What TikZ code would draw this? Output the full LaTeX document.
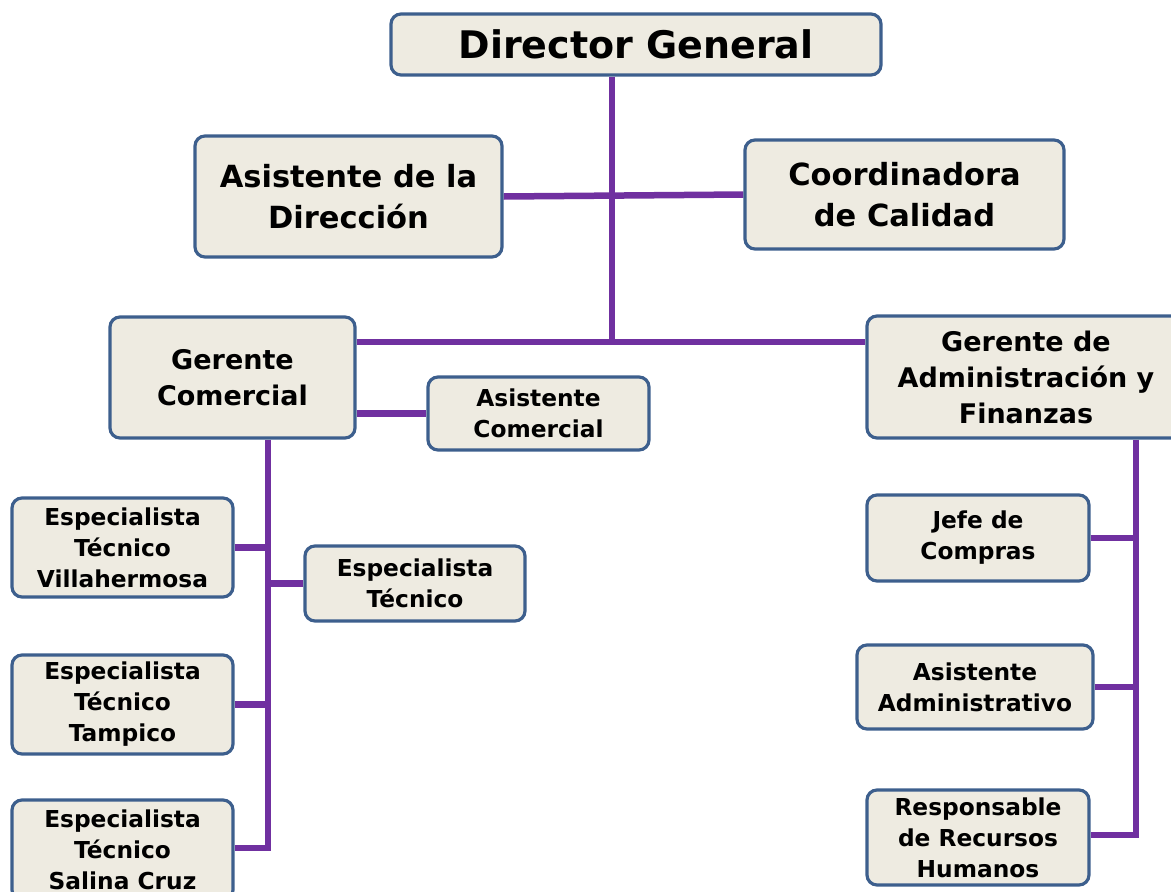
\documentclass[tikz,border=0pt]{standalone}
\usepackage{fontspec}
\setmainfont{DejaVu Sans}
\usetikzlibrary{backgrounds}
\definecolor{bordc}{HTML}{3D5F8D}
\definecolor{fillc}{HTML}{EEEBE1}
\definecolor{linec}{HTML}{7030A0}
\tikzset{
  orgbox/.style={draw=bordc, fill=fillc, line width=3.2pt, rounded corners=10pt,
    align=center, inner sep=0pt, font=\bfseries},
  fA/.style={font=\bfseries\fontsize{38}{44}\selectfont},
  fB/.style={font=\bfseries\fontsize{30.5}{41}\selectfont},
  fC/.style={font=\bfseries\fontsize{27}{36}\selectfont},
  fD/.style={font=\bfseries\fontsize{23.3}{31}\selectfont},
  conn/.style={draw=linec, line width=6.5pt}
}
\begin{document}
\begin{tikzpicture}[x=1pt,y=-1pt]
\useasboundingbox (0,0) rectangle (1171,892);
\clip (0,0) rectangle (1171,892);
\node[orgbox,fA,minimum width=490pt,minimum height=61pt] (dg) at (636,44.5) {Director General};
\node[orgbox,fB,minimum width=307pt,minimum height=121pt] (ad) at (348.5,196.5) {Asistente de la\\Dirección};
\node[orgbox,fB,minimum width=319pt,minimum height=109pt] (cc) at (904.5,194.5) {Coordinadora\\de Calidad};
\node[orgbox,fC,minimum width=245pt,minimum height=121pt] (gc) at (232.5,377.5) {Gerente\\Comercial};
\node[orgbox,fD,minimum width=221pt,minimum height=73pt] (ac) at (538.5,413.5) {Asistente\\Comercial};
\node[orgbox,fC,minimum width=318pt,minimum height=122pt] (ga) at (1026,377) {Gerente de\\Administración y\\Finanzas};
\node[orgbox,fD,minimum width=221pt,minimum height=99pt] (ev) at (122.5,547.5) {Especialista\\Técnico\\Villahermosa};
\node[orgbox,fD,minimum width=220pt,minimum height=75pt] (et) at (415,583.5) {Especialista\\Técnico};
\node[orgbox,fD,minimum width=221pt,minimum height=99pt] (tp) at (122.5,704.5) {Especialista\\Técnico\\Tampico};
\node[orgbox,fD,minimum width=221pt,minimum height=100pt] (sc) at (122.5,850) {Especialista\\Técnico\\Salina Cruz};
\node[orgbox,fD,minimum width=222pt,minimum height=86pt] (jc) at (978,538) {Jefe de\\Compras};
\node[orgbox,fD,minimum width=236pt,minimum height=84pt] (aa) at (975,687) {Asistente\\Administrativo};
\node[orgbox,fD,minimum width=222pt,minimum height=95pt] (rr) at (978,837.5) {Responsable\\de Recursos\\Humanos};
\coordinate (j1) at (612,342);
\coordinate (lt) at (268,848);
\coordinate (rt) at (1136,835);
\begin{scope}[on background layer]
\draw[conn] (dg.south -| j1) -- (j1);
\draw[conn] (ad.east) -- (cc.west);
\draw[conn] (j1 -| gc.east) -- (j1 -| ga.west);
\draw[conn] (ac.west -| gc.east) -- (ac.west);
\draw[conn] (gc.south -| lt) -- (lt) -- (lt -| sc.east);
\draw[conn] (ev.east) -- (ev.east -| lt);
\draw[conn] (et.west) -- (et.west -| lt);
\draw[conn] (tp.east) -- (tp.east -| lt);
\draw[conn] (ga.south -| rt) -- (rt) -- (rt -| rr.east);
\draw[conn] (jc.east) -- (jc.east -| rt);
\draw[conn] (aa.east) -- (aa.east -| rt);
\end{scope}
\end{tikzpicture}
\end{document}
